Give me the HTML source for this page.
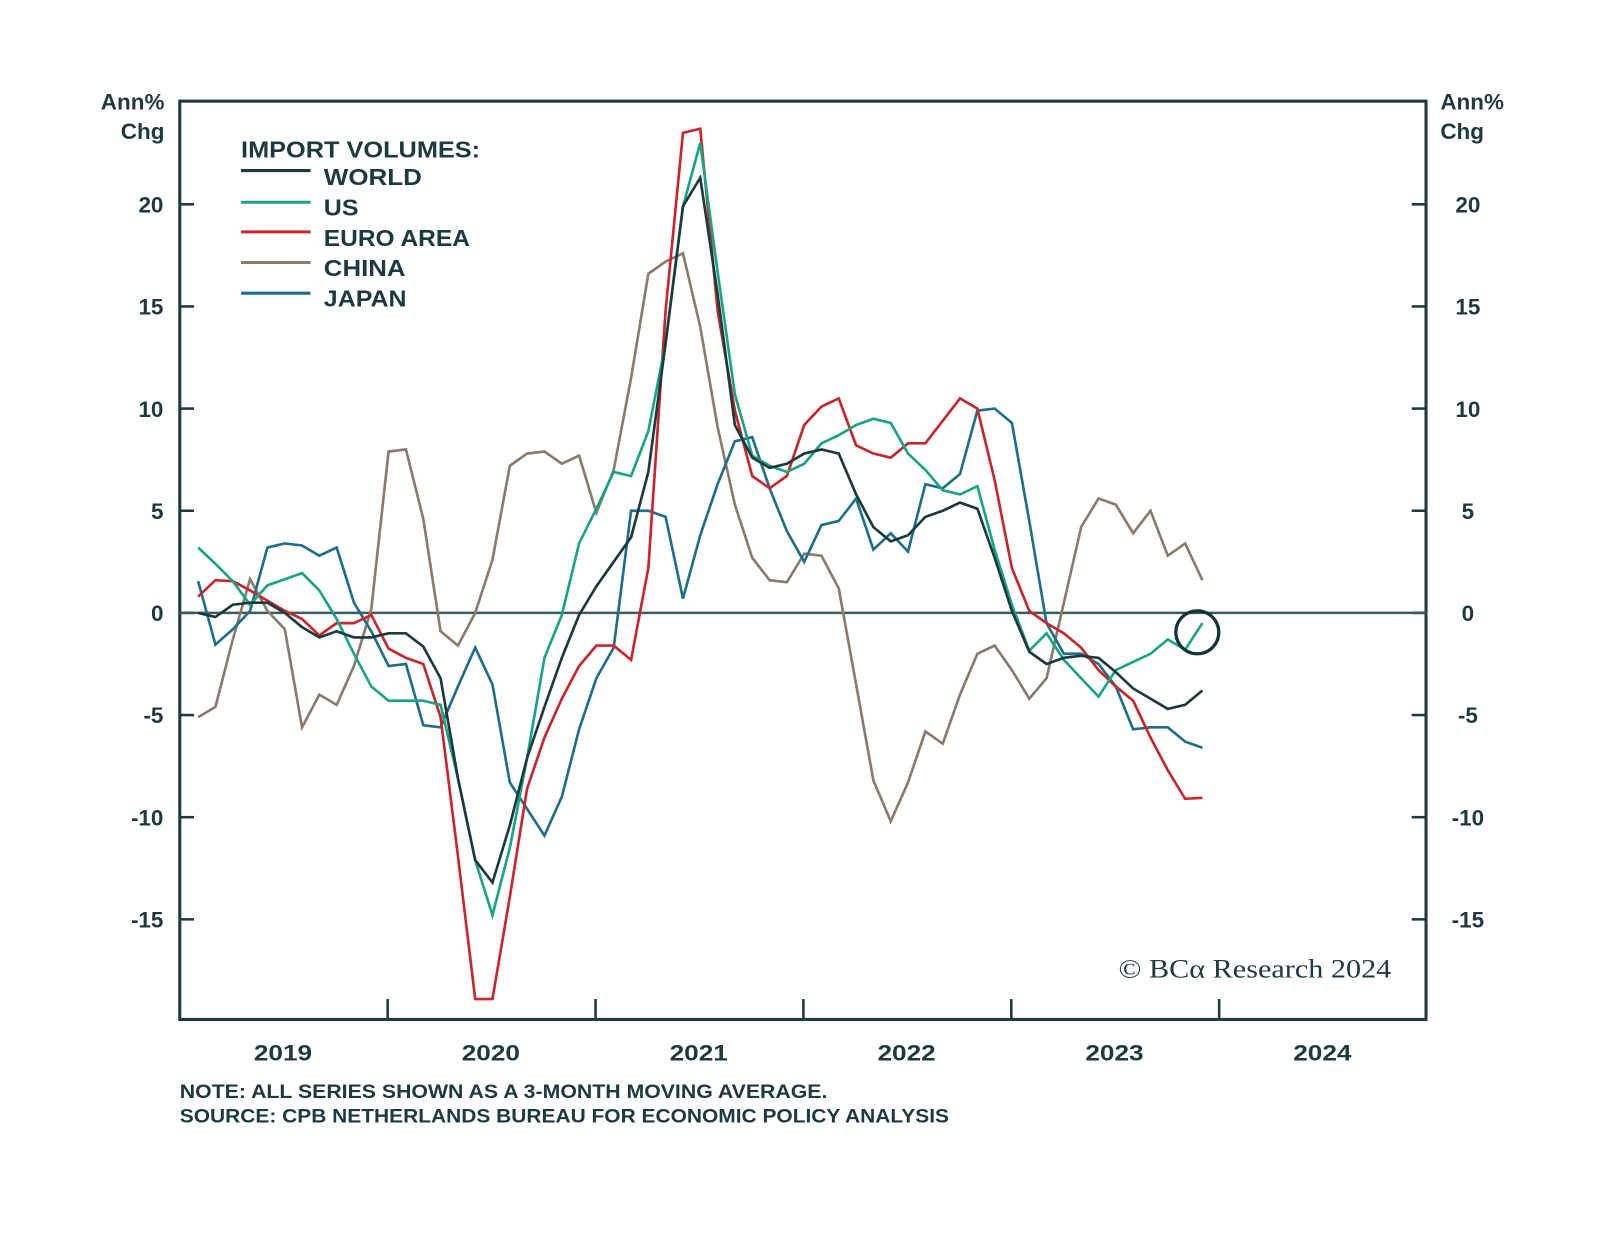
<!DOCTYPE html>
<html><head><meta charset="utf-8"><style>
body{margin:0;background:#fff;}
svg{display:block;font-family:"Liberation Sans",sans-serif;}
</style></head><body>
<svg id="chart" width="1600" height="1233" viewBox="0 0 1600 1233">
<g transform="scale(1.0215)">
<g id="axes"></g>
<g id="series"></g>
<g font-weight="bold" font-size="23" fill="#1e3a3f">
<text x="236" y="154" textLength="234" lengthAdjust="spacingAndGlyphs">IMPORT VOLUMES:</text>
<line x1="236" x2="304" y1="167" y2="167" stroke="#1c3a3c" stroke-width="3"/>
<text x="317" y="181" textLength="96" lengthAdjust="spacingAndGlyphs">WORLD</text>
<line x1="236" x2="304" y1="198" y2="198" stroke="#1aa487" stroke-width="3"/>
<text x="317" y="211" textLength="34" lengthAdjust="spacingAndGlyphs">US</text>
<line x1="236" x2="304" y1="227" y2="227" stroke="#c8262c" stroke-width="3"/>
<text x="317" y="241" textLength="143" lengthAdjust="spacingAndGlyphs">EURO AREA</text>
<line x1="236" x2="304" y1="257" y2="257" stroke="#8b7b6d" stroke-width="3"/>
<text x="317" y="270" textLength="80" lengthAdjust="spacingAndGlyphs">CHINA</text>
<line x1="236" x2="304" y1="287" y2="287" stroke="#1f6f8b" stroke-width="3"/>
<text x="317" y="300" textLength="81" lengthAdjust="spacingAndGlyphs">JAPAN</text>
</g>
<g font-weight="bold" font-size="22" fill="#1e3a3f">
<text x="161" y="107" text-anchor="end">Ann%</text>
<text x="161" y="136" text-anchor="end">Chg</text>
<text x="1410" y="107">Ann%</text>
<text x="1410" y="136">Chg</text>
</g>
<text x="1362" y="957" text-anchor="end" textLength="267" lengthAdjust="spacingAndGlyphs" font-family="'Liberation Serif',serif" font-size="26" fill="#1e3a3f">© BCα Research 2024</text>
<g font-weight="bold" font-size="19" fill="#1e3a3f">
<text x="176" y="1075" textLength="634" lengthAdjust="spacingAndGlyphs">NOTE: ALL SERIES SHOWN AS A 3-MONTH MOVING AVERAGE.</text>
<text x="176" y="1099" textLength="753" lengthAdjust="spacingAndGlyphs">SOURCE: CPB NETHERLANDS BUREAU FOR ECONOMIC POLICY ANALYSIS</text>
</g>
</g>
</svg>
<script>
const world=[0,-0.2,0.4,0.5,0.5,0,-0.7,-1.2,-0.9,-1.2,-1.2,-1.0,-1.0,-1.65,-3.2,-8.1,-12.1,-13.2,-10.4,-7.1,-4.6,-2.2,-0.1,1.3,2.5,3.7,6.9,13.2,19.9,21.3,15.6,9.2,7.6,7.1,7.3,7.8,8.0,7.8,5.8,4.2,3.5,3.8,4.7,5.0,5.4,5.1,2.7,0.1,-1.9,-2.5,-2.2,-2.1,-2.2,-2.9,-3.7,-4.2,-4.7,-4.5,-3.8];
const us=[3.2,2.4,1.55,0.4,1.35,1.65,1.95,1.1,-0.3,-2.0,-3.6,-4.3,-4.3,-4.3,-4.5,-8.1,-12.1,-14.8,-11.5,-7.1,-2.2,-0.1,3.4,5.1,6.9,6.7,8.9,13.2,19.9,23.0,16.7,10.7,7.7,7.2,6.9,7.3,8.3,8.7,9.2,9.5,9.3,7.8,7.0,6.0,5.8,6.2,3.1,0.4,-1.85,-1.0,-2.3,-3.2,-4.1,-2.8,-2.4,-2.0,-1.3,-1.8,-0.5];
const euro=[0.8,1.6,1.55,1.1,0.6,0.1,-0.3,-1.1,-0.5,-0.5,-0.1,-1.75,-2.2,-2.5,-5.1,-11.9,-18.9,-18.9,-13.9,-8.6,-6.1,-4.2,-2.6,-1.6,-1.6,-2.3,2.2,14.8,23.5,23.7,14.8,9.9,6.7,6.1,6.7,9.2,10.1,10.5,8.2,7.8,7.6,8.3,8.3,9.4,10.5,10.0,6.5,2.2,0.1,-0.5,-1.0,-1.7,-2.8,-3.6,-4.3,-6.1,-7.7,-9.1,-9.05];
const china=[-5.1,-4.6,-1.3,1.65,0.1,-0.8,-5.6,-4.0,-4.5,-2.6,0.2,7.9,8.0,4.6,-0.9,-1.6,0,2.6,7.2,7.8,7.9,7.3,7.7,4.9,7.0,11.5,16.6,17.2,17.6,14.0,9.1,5.3,2.7,1.6,1.5,2.9,2.8,1.2,-3.5,-8.2,-10.2,-8.3,-5.8,-6.4,-4.0,-2.0,-1.6,-2.8,-4.2,-3.2,0.5,4.2,5.6,5.3,3.9,5.0,2.8,3.4,1.6];
const japan=[1.55,-1.55,-0.8,0.1,3.2,3.4,3.3,2.8,3.2,0.5,-0.9,-2.6,-2.5,-5.5,-5.6,-3.6,-1.7,-3.5,-8.3,-9.6,-10.9,-9.0,-5.7,-3.2,-1.7,5.0,5.0,4.7,0.7,3.8,6.3,8.4,8.6,6.1,4.0,2.5,4.3,4.5,5.6,3.1,3.9,3.0,6.3,6.1,6.8,9.9,10.0,9.3,4.5,-0.5,-2.0,-2.0,-2.5,-3.6,-5.7,-5.6,-5.6,-6.3,-6.6];
const yTicks=[-15,-10,-5,0,5,10,15,20];
const yearLabels=["2019","2020","2021","2022","2023","2024"];
const NS="http://www.w3.org/2000/svg";
const L=176,R=1396,T=99,B=998;
function yS(v){return 600-v*20;}
function xS(i){return 194+i*16.95;}
function xYear(k){return L+k*203.5;}
function mk(tag,attrs,parent){const e=document.createElementNS(NS,tag);for(const k in attrs)e.setAttribute(k,attrs[k]);parent.appendChild(e);return e;}
const ax=document.getElementById('axes');
const col="#1e3a3f";
let fr=mk('rect',{x:L,y:T,width:R-L,height:B-T,fill:'none',stroke:col,'stroke-width':3},ax);


yTicks.forEach(v=>{
 const y=yS(v);
 let t1=mk('line',{x1:L,x2:L+14,y1:y,y2:y,stroke:col,'stroke-width':2.5},ax);
 
 
 let t2=mk('line',{x1:R-14,x2:R,y1:y,y2:y,stroke:col,'stroke-width':2.5},ax);
 
 
 let a=mk('text',{x:160,y:y+8,'text-anchor':'end','font-size':22,'font-weight':'bold',fill:col},ax);a.textContent=String(v);
 
 
 let b=mk('text',{x:1437,y:y+8,'text-anchor':'middle','font-size':22,'font-weight':'bold',fill:col},ax);b.textContent=String(v);
 
 
});
let z=mk('line',{x1:L,x2:R,y1:yS(0),y2:yS(0),stroke:'#3d5a60','stroke-width':2.5},ax);


yearLabels.forEach((lab,k)=>{
 if(k>0){let t=mk('line',{x1:xYear(k),x2:xYear(k),y1:B-20,y2:B,stroke:col,'stroke-width':2.5},ax);
 
 }
 let tx=mk('text',{x:xYear(k)+101,y:1038,'text-anchor':'middle','font-size':22,'font-weight':'bold',fill:col,textLength:57,lengthAdjust:'spacingAndGlyphs'},ax);tx.textContent=lab;
 
 
});
const sg=document.getElementById('series');
function line(data,color,name){
 const d=data.map((v,i)=>(i?'L':'M')+xS(i).toFixed(1)+' '+yS(v).toFixed(1)).join(' ');
 const p=mk('path',{d:d,fill:'none',stroke:color,'stroke-width':2.6,'stroke-linejoin':'miter'},sg);
 
 
}
line(china,'#8b7b6d','china-line');
line(japan,'#1f6f8b','japan-line');
line(euro,'#c8262c','euro-area-line');
line(us,'#1aa487','us-line');
line(world,'#1c3a3c','world-line');
const last=us.length-1;
let c=mk('circle',{cx:xS(last)-5,cy:yS(us[last])+9,r:21,fill:'none',stroke:'#143338','stroke-width':3.2},sg);


</script>
</body></html>
